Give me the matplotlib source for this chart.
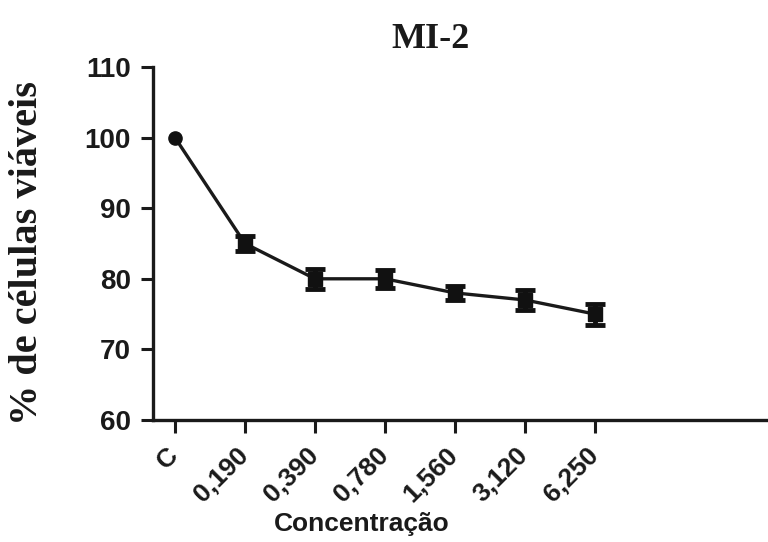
import matplotlib
matplotlib.use("Agg")
import matplotlib.pyplot as plt
import matplotlib.transforms as mtransforms

categories = ["C", "0,190", "0,390", "0,780", "1,560", "3,120", "6,250"]
viability = [100, 85, 80, 80, 78, 77, 75]
errors = [0, 1.0, 1.4, 1.3, 1.0, 1.4, 1.5]
y_ticks = [60, 70, 80, 90, 100, 110]

fig = plt.figure(figsize=(7.68, 5.42), dpi=100)
ax = fig.add_axes([153/768, 122/542, 1 - 153/768, (475-122)/542])

x = list(range(len(categories)))
ax.plot(x, viability, color="#1a1a1a", lw=2.4, zorder=2)
ax.errorbar(x[1:], viability[1:], yerr=errors[1:], fmt="s", color="#111111",
            ms=9.5, ecolor="#111111", elinewidth=3.5, capsize=7, capthick=3.5, zorder=3)
ax.plot(x[:1], viability[:1], "o", color="#111111", ms=9.5, zorder=3)

ax.set_ylim(60, 110)
ax.set_xlim(-0.314, 8.47)
ax.set_yticks(y_ticks)
ax.set_xticks(x)
ax.set_xticklabels(categories, rotation=45, ha="right")

for s in ["top", "right"]:
    ax.spines[s].set_visible(False)
for s in ["left", "bottom"]:
    ax.spines[s].set_linewidth(2.4)
    ax.spines[s].set_color("#1a1a1a")

ax.tick_params(axis="both", length=9, width=2.2, color="#1a1a1a")
ax.tick_params(axis="y", pad=7)
ax.tick_params(axis="x", pad=5)
for lab in ax.get_yticklabels() + ax.get_xticklabels():
    lab.set_fontfamily("Liberation Sans")
    lab.set_fontweight("bold")
    lab.set_fontsize(20)
    lab.set_color("#1a1a1a")
for lab in ax.get_xticklabels():
    lab.set_fontsize(19)

offset = mtransforms.ScaledTranslation(8/100, -4/100, fig.dpi_scale_trans)
for lab in ax.get_xticklabels():
    lab.set_transform(lab.get_transform() + offset)

fig.text(430/768, 1 - 40/542, "MI-2", fontfamily="Liberation Serif", fontweight="bold",
         fontsize=26, ha="center", va="center", color="#1a1a1a")
fig.text(28/768, 1 - 253/542, "% de células viáveis", fontfamily="Liberation Serif",
         fontweight="bold", fontsize=29, rotation=90, ha="center", va="center", color="#1a1a1a")
fig.text(362/768, 1 - 524/542, "Concentração", fontfamily="Liberation Sans",
         fontweight="bold", fontsize=19, ha="center", va="center", color="#1a1a1a")

fig.savefig("out.png", dpi=100, facecolor="white")
